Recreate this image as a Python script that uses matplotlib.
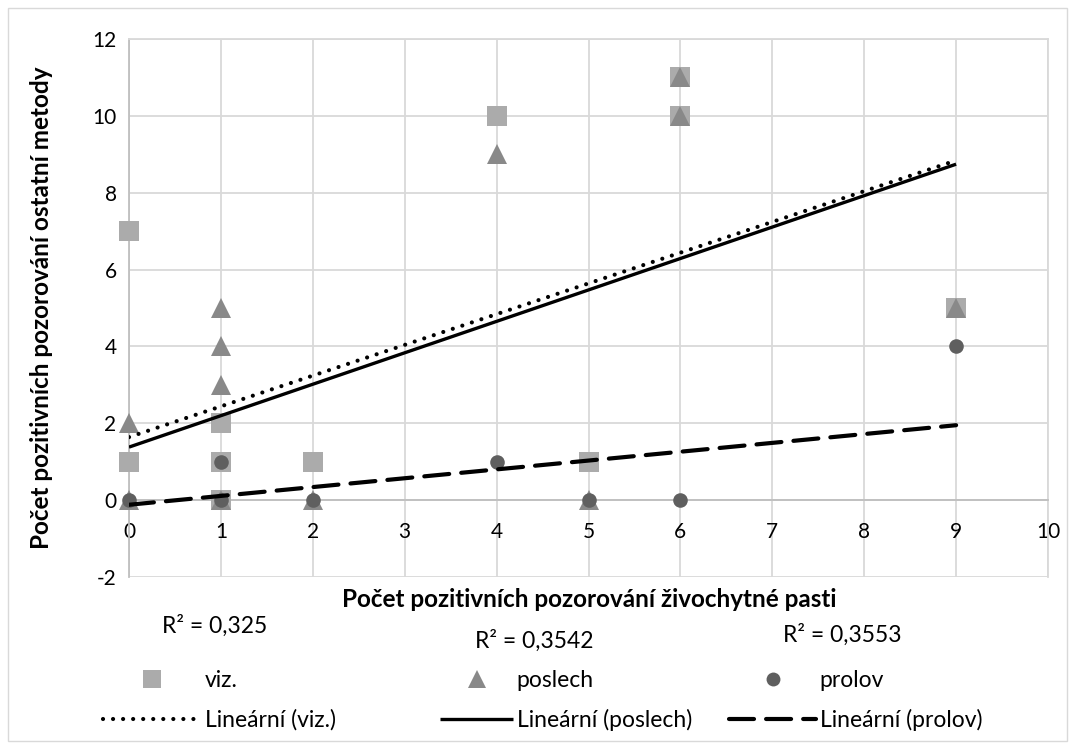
import matplotlib
matplotlib.use("Agg")
import matplotlib.pyplot as plt
import numpy as np
from matplotlib.lines import Line2D
from matplotlib.patches import Rectangle

plt.rcParams['font.family'] = ['Lato', 'DejaVu Sans']
plt.rcParams['axes.unicode_minus'] = False

# ---- data ----
viz_x = [0, 0, 1, 1, 1, 2, 4, 5, 6, 6, 9]
viz_y = [7, 1, 2, 1, 0, 1, 10, 1, 11, 10, 5]
poslech_x = [0, 0, 1, 1, 1, 1, 2, 4, 5, 6, 6, 9]
poslech_y = [2, 0, 5, 4, 3, 0, 0, 9, 0, 11, 10, 5]
prolov_x = [0, 1, 1, 2, 4, 5, 6, 9]
prolov_y = [0, 1, 0, 0, 1, 0, 0, 4]

# trend line coefficients (slope, intercept) and R^2 labels
trend_viz = (0.80, 1.64)
trend_poslech = (0.818, 1.38)
trend_prolov = (0.23, -0.12)
r2_labels = ["R² = 0,325", "R² = 0,3542", "R² = 0,3553"]

x_ticks = list(range(0, 11))
y_ticks = list(range(-2, 13, 2))

W, H = 1075, 749
fig = plt.figure(figsize=(W / 100, H / 100), dpi=100)
ax = fig.add_axes([129 / W, 1 - 577 / H, (1048 - 129) / W, (577 - 39) / H])

c_viz, c_pos, c_pro = '#ABABAB', '#898989', '#5F5F5F'
grid_c = '#D9D9D9'
axis_c = '#BFBFBF'
fs_tick = 15
fs_title = 17.5
fs_leg = 16.5

ax.plot(viz_x, viz_y, ls='none', marker='s', ms=14, mew=0, color=c_viz, zorder=3, clip_on=False)
ax.plot(poslech_x, poslech_y, ls='none', marker='^', ms=14, mew=0, color=c_pos, zorder=4, clip_on=False)
ax.plot(prolov_x, prolov_y, ls='none', marker='o', ms=10.5, mew=0, color=c_pro, zorder=5, clip_on=False)

xr = np.array([min(viz_x), max(viz_x)], dtype=float)
l_viz, = ax.plot(xr, trend_viz[0] * xr + trend_viz[1], color='black', lw=3.0,
                 ls=(0, (0.01, 2.4)), dash_capstyle='round', zorder=6)
l_pos, = ax.plot(xr, trend_poslech[0] * xr + trend_poslech[1], color='black', lw=2.4,
                 zorder=6, solid_capstyle='butt')
l_pro, = ax.plot(xr, trend_prolov[0] * xr + trend_prolov[1], color='black', lw=3.0,
                 ls=(0, (6, 2.9)), dash_capstyle='round', zorder=6)

ax.set_xlim(0, 10)
ax.set_ylim(-2, 12)
ax.set_xticks(x_ticks)
ax.set_yticks(y_ticks)
ax.grid(True, color=grid_c, lw=1.3, zorder=0)
ax.set_axisbelow(True)
ax.spines['bottom'].set_position(('data', 0))
ax.spines['bottom'].set_color(axis_c)
ax.spines['left'].set_color(axis_c)
ax.spines['bottom'].set_linewidth(1.3)
ax.spines['left'].set_linewidth(1.3)
for s in ('top', 'right'):
    ax.spines[s].set_color(grid_c)
    ax.spines[s].set_linewidth(1.3)
ax.tick_params(axis='both', length=0, labelsize=fs_tick, colors='black')
ax.tick_params(axis='x', pad=15.5)
ax.tick_params(axis='y', pad=9)

fig.text(589 / W, 1 - 607 / H, 'Počet pozitivních pozorování živochytné pasti',
         ha='center', va='baseline', fontsize=fs_title, fontweight='bold')
fig.text(42 / W, 1 - 308 / H, 'Počet pozitivních pozorování ostatní metody',
         ha='center', va='center', rotation=90, fontsize=fs_title, fontweight='bold')

r2_pos = [(162, 633), (475, 648), (783, 642)]
for (px, py), t in zip(r2_pos, r2_labels):
    fig.text(px / W, 1 - py / H, t, ha='left', va='baseline', fontsize=fs_leg)

# legends (one per column)
entries = [
    (Line2D([], [], ls='none', marker='s', ms=12.5, mew=0, color=c_viz), 'viz.',
     l_viz, 'Lineární (viz.)', 103, 4.3),
    (Line2D([], [], ls='none', marker='^', ms=12.5, mew=0, color=c_pos), 'poslech',
     l_pos, 'Lineární (poslech)', 440, 3.2),
    (Line2D([], [], ls='none', marker='o', ms=10, mew=0, color=c_pro), 'prolov',
     l_pro, 'Lineární (prolov)', 729, 3.8),
]
for mh, ml, lh, ll, px, hl in entries:
    fig.legend([mh, lh], [ml, ll], loc='upper left', bbox_to_anchor=(px / W, 1 - 670 / H),
               frameon=False, fontsize=fs_leg, handlelength=hl, handletextpad=0.15,
               labelspacing=0.8, borderaxespad=0, borderpad=0)

fig.add_artist(Rectangle((8 / W, 8 / H), 1 - 16 / W, 1 - 16 / H, transform=fig.transFigure,
                         fill=False, edgecolor='#D9D9D9', lw=1))

fig.savefig('out.png', dpi=100)
